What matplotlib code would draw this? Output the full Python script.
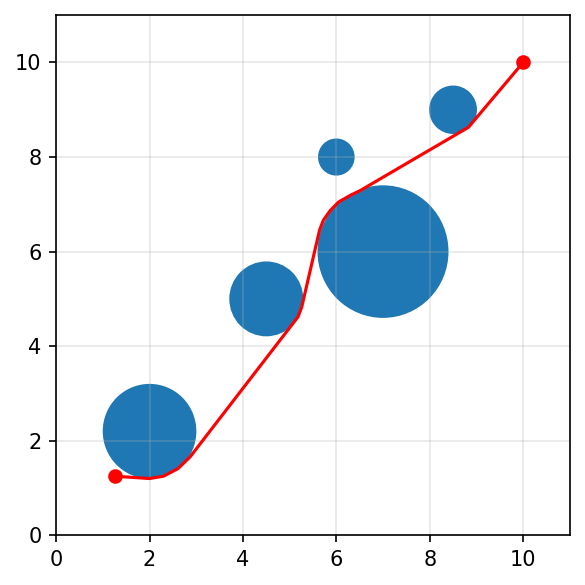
import matplotlib
matplotlib.use("Agg")
import matplotlib.pyplot as plt
from matplotlib.patches import Circle

# Obstacles
obs_x = [2.0, 4.5, 7.0, 6.0, 8.5]
obs_y = [2.2, 5.0, 6.0, 8.0, 9.0]
obs_r = [0.98, 0.77, 1.38, 0.37, 0.49]

# Path
path_x = [1.25, 2.0, 2.3, 2.61, 2.87, 5.18, 5.26, 5.64, 5.72, 5.87, 6.05, 6.3, 6.51, 8.83, 10.0]
path_y = [1.25, 1.2, 1.25, 1.41, 1.66, 4.62, 4.83, 6.45, 6.66, 6.87, 7.05, 7.19, 7.29, 8.63, 10.0]

start = (1.25, 1.25)
goal = (10.0, 10.0)

fig = plt.figure(figsize=(3.9, 3.9), dpi=150)
ax = fig.add_axes([0.096, 0.085, 0.878, 0.889])
for x, y, r in zip(obs_x, obs_y, obs_r):
    ax.add_patch(Circle((x, y), r, color="#1f77b4"))
ax.plot(path_x, path_y, color="red", lw=1.5)
ax.plot([start[0], goal[0]], [start[1], goal[1]], "o", color="red", ms=6, ls="none")
ax.set_xlim(0, 11)
ax.set_ylim(0, 11)
ax.set_xticks([0, 2, 4, 6, 8, 10])
ax.set_yticks([0, 2, 4, 6, 8, 10])
ax.grid(True, alpha=0.3)
fig.savefig("out.png", dpi=150)
